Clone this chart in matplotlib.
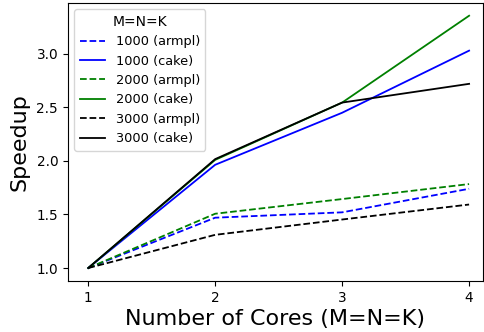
import matplotlib
matplotlib.use('Agg')
import matplotlib.pyplot as plt

cores = [1, 2, 3, 4]
armpl_1000 = [1.0, 1.47, 1.52, 1.74]
cake_1000 = [1.0, 1.964, 2.45, 3.03]
armpl_2000 = [1.0, 1.507, 1.644, 1.784]
cake_2000 = [1.0, 2.01, 2.545, 3.356]
armpl_3000 = [1.0, 1.31, 1.453, 1.593]
cake_3000 = [1.0, 2.017, 2.545, 2.72]

fig = plt.figure(figsize=(4.85, 3.32), dpi=100)
ax = fig.add_axes([0.140, 0.154, 0.856, 0.837])

lw = 1.3
ax.plot(cores, armpl_1000, 'b--', lw=lw, label='1000 (armpl)')
ax.plot(cores, cake_1000, 'b-', lw=lw, label='1000 (cake)')
ax.plot(cores, armpl_2000, 'g--', lw=lw, label='2000 (armpl)')
ax.plot(cores, cake_2000, 'g-', lw=lw, label='2000 (cake)')
ax.plot(cores, armpl_3000, 'k--', lw=lw, label='3000 (armpl)')
ax.plot(cores, cake_3000, 'k-', lw=lw, label='3000 (cake)')

ax.set_xlim(0.84, 4.11)
ax.set_ylim(0.88, 3.475)
ax.set_xticks(cores)
ax.set_yticks([1.0, 1.5, 2.0, 2.5, 3.0])
ax.tick_params(labelsize=9.8)
ax.set_xlabel('Number of Cores (M=N=K)', fontsize=16, labelpad=3)
ax.set_ylabel('Speedup', fontsize=16, labelpad=5)
leg = ax.legend(title='M=N=K', fontsize=9.3, title_fontsize=10, loc='upper left')

fig.savefig('out.png', dpi=100)
